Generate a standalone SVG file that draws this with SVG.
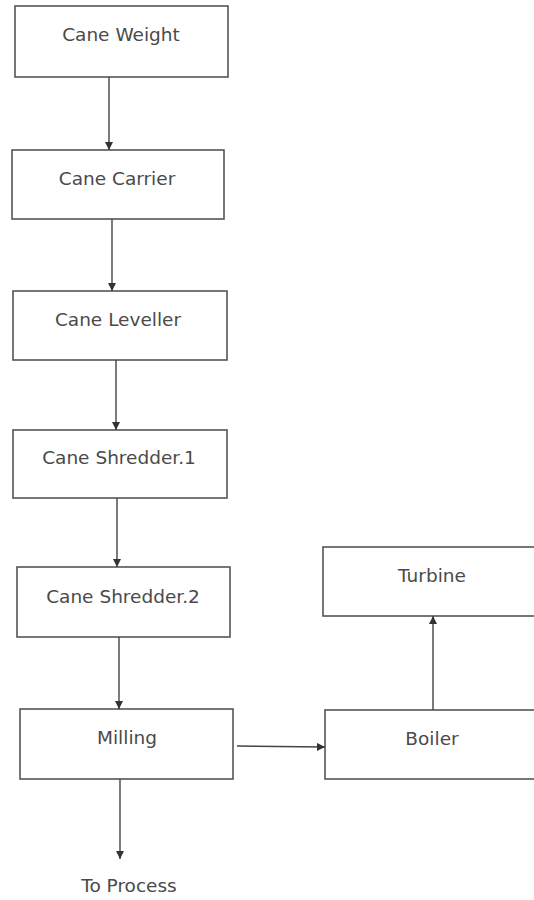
<svg xmlns="http://www.w3.org/2000/svg" width="534" height="900" viewBox="0 0 534 900">
  <defs>
    <marker id="arrow" viewBox="0 0 10 10" refX="10" refY="5" markerWidth="8" markerHeight="8" markerUnits="userSpaceOnUse" orient="auto">
      <path d="M0,0 L10,5 L0,10 z" fill="#333"/>
    </marker>
    <style>
      .box { fill: #ffffff; stroke: #555; stroke-width: 1.6; }
      .label { font-family: "DejaVu Sans", Verdana, sans-serif; font-size: 18.5px; fill: #4a4a4a; text-anchor: middle; dominant-baseline: central; }
      .link { fill: none; stroke: #444; stroke-width: 1.4; marker-end: url(#arrow); }
    </style>
  </defs>
  <rect width="534" height="900" fill="#ffffff"/>

  <g id="cane-weight">
    <rect class="box" x="15" y="6" width="213" height="71"/>
    <text class="label" x="121" y="34">Cane Weight</text>
  </g>
  <g id="cane-carrier">
    <rect class="box" x="12" y="150" width="212" height="69"/>
    <text class="label" x="117" y="178">Cane Carrier</text>
  </g>
  <g id="cane-leveller">
    <rect class="box" x="13" y="291" width="214" height="69"/>
    <text class="label" x="118" y="319">Cane Leveller</text>
  </g>
  <g id="cane-shredder-1">
    <rect class="box" x="13" y="430" width="214" height="68"/>
    <text class="label" x="119" y="457">Cane Shredder.1</text>
  </g>
  <g id="cane-shredder-2">
    <rect class="box" x="17" y="567" width="213" height="70"/>
    <text class="label" x="123" y="596">Cane Shredder.2</text>
  </g>
  <g id="milling">
    <rect class="box" x="20" y="709" width="213" height="70"/>
    <text class="label" x="127" y="737">Milling</text>
  </g>
  <g id="boiler">
    <rect class="box" x="325" y="710" width="215" height="69"/>
    <text class="label" x="432" y="738">Boiler</text>
  </g>
  <g id="turbine">
    <rect class="box" x="323" y="547" width="217" height="69"/>
    <text class="label" x="432" y="575">Turbine</text>
  </g>
  <g id="to-process">
    <text class="label" x="129" y="885">To Process</text>
  </g>

  <g id="connectors">
    <line class="link" x1="109" y1="77" x2="109" y2="150"/>
    <line class="link" x1="112" y1="219" x2="112" y2="291"/>
    <line class="link" x1="116" y1="360" x2="116" y2="430"/>
    <line class="link" x1="117" y1="498" x2="117" y2="567"/>
    <line class="link" x1="119" y1="637" x2="119" y2="709"/>
    <line class="link" x1="120" y1="779" x2="120" y2="859"/>
    <line class="link" x1="237" y1="746" x2="325" y2="747"/>
    <line class="link" x1="433" y1="710" x2="433" y2="616"/>
  </g>
</svg>
